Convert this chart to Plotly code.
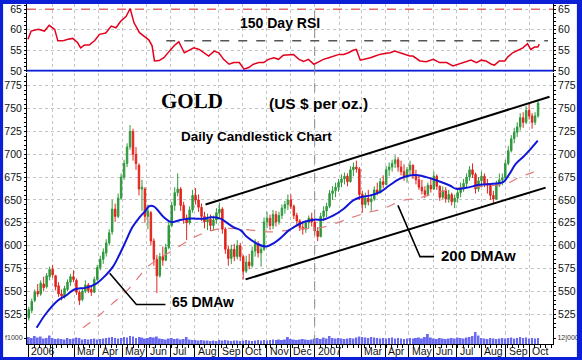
import plotly.graph_objects as go
import pandas as pd

# ---------------- data ----------------
candle_open = [
    521,529,540,550,547,558,555,566,574,567,
    556,547,544,552,560,566,562,549,541,550,
    557,552,549,563,576,585,592,603,615,640,
    632,652,675,690,708,725,700,688,662,662,
    632,636,605,585,567,588,584,598,622,644,
    658,662,644,630,625,639,655,650,642,632,
    626,629,622,628,636,640,618,596,586,596,
    588,600,588,572,582,578,594,602,592,596,
    626,630,622,634,626,633,641,645,650,643,
    633,627,620,618,625,630,626,616,610,632,
    638,643,657,660,664,669,673,676,670,683,
    686,684,656,645,652,648,651,661,658,670,
    667,683,686,690,694,686,681,676,683,688,
    677,672,664,660,656,666,662,676,665,653,
    660,651,656,648,652,658,664,668,675,683,
    678,662,671,676,668,666,655,651,667,672,
    674,690,704,717,724,730,740,735,748,742,
    735,742]
candle_high = [
    533,542,552,558,562,566,570,577,579,568,
    560,552,556,563,569,573,564,551,553,562,
    559,556,566,579,589,597,607,618,650,646,
    657,679,694,712,732,728,708,690,672,664,
    645,638,608,590,592,599,602,626,648,664,
    679,664,648,634,643,661,663,656,646,637,
    635,634,633,641,647,642,620,600,601,602,
    606,603,590,589,591,599,607,605,600,631,
    637,634,639,638,637,645,649,656,656,645,
    636,629,625,628,633,636,629,620,636,643,
    647,661,665,669,673,678,680,679,687,691,
    693,686,660,658,661,655,665,669,674,677,
    687,691,694,699,697,693,689,686,693,689,
    683,677,672,665,669,673,681,678,666,665,
    664,661,658,656,661,669,673,679,687,690,
    680,675,681,679,673,667,660,671,679,679,
    694,709,721,729,735,745,746,753,756,745,
    746,760]
candle_low = [
    518,526,538,544,545,550,553,562,565,551,
    544,540,542,550,556,560,546,535,539,548,
    548,545,548,561,573,580,588,600,612,626,
    630,650,672,686,705,693,683,655,638,625,
    618,600,578,548,565,578,583,596,620,638,
    654,638,624,606,623,636,645,637,627,619,
    617,616,616,624,630,613,591,578,580,583,
    585,583,563,570,574,576,588,587,577,594,
    619,617,618,621,623,629,635,639,640,629,
    623,616,612,614,619,621,612,605,609,627,
    631,641,650,653,659,664,667,665,669,676,
    680,650,636,641,644,638,649,655,657,663,
    666,676,681,685,681,677,671,669,677,673,
    667,661,656,652,654,658,661,661,649,651,
    647,647,644,641,647,653,659,663,671,674,
    657,659,665,664,657,650,645,650,664,666,
    673,688,702,712,719,726,729,733,738,728,
    732,740]
candle_close = [
    530,539,549,547,559,554,567,574,568,555,
    547,545,553,560,566,563,549,540,550,557,
    551,549,563,576,585,593,603,614,640,632,
    652,675,690,708,725,700,690,662,664,632,
    638,605,585,567,588,584,598,622,644,658,
    662,644,630,625,639,655,650,642,632,626,
    629,622,628,636,640,618,596,586,596,588,
    600,588,572,582,578,594,602,592,596,626,
    630,622,634,626,633,641,645,650,643,633,
    627,620,618,625,630,626,616,610,632,638,
    643,657,660,664,669,673,676,670,683,686,
    684,656,645,652,648,651,661,658,670,667,
    683,686,690,694,686,681,676,683,688,677,
    672,664,660,656,666,662,676,665,653,660,
    651,656,648,652,658,664,668,675,683,678,
    662,671,676,668,666,655,651,667,672,674,
    690,704,717,724,730,740,735,748,742,735,
    742,756]
volume = [
    70,60,80,65,75,55,60,85,60,50,
    55,50,45,60,50,55,65,60,45,50,
    45,50,55,45,50,55,60,65,70,60,
    55,60,70,65,80,75,60,70,65,55,
    60,70,65,75,55,50,45,55,60,50,
    55,45,50,70,45,40,40,35,40,35,
    35,30,35,30,40,35,40,35,30,35,
    35,30,35,40,35,30,35,40,35,40,
    35,40,45,40,45,40,45,70,50,45,
    40,45,50,45,40,45,55,60,50,65,
    55,80,60,55,60,55,50,55,60,55,
    65,75,70,65,60,70,65,60,55,60,
    55,60,65,55,60,55,50,55,60,55,
    60,65,55,70,100,65,55,50,60,55,
    50,55,60,55,65,60,55,65,70,80,
    120,85,60,55,50,60,55,50,55,60,
    55,60,65,55,60,70,60,65,55,60,
    55,60]

ma65_dates = ["2006-01-12","2006-01-24","2006-02-08","2006-02-19","2006-03-01","2006-03-16","2006-03-29","2006-04-10","2006-04-19","2006-04-27",
              "2006-05-06","2006-05-14","2006-05-23","2006-05-31","2006-06-04","2006-06-10","2006-06-23","2006-07-02","2006-07-12","2006-07-23",
              "2006-08-03","2006-08-13","2006-08-22","2006-09-03","2006-09-10","2006-09-20","2006-09-29","2006-10-07","2006-10-20","2006-10-31",
              "2006-11-10","2006-11-20","2006-11-29","2006-12-05","2006-12-18","2006-12-31","2007-01-12","2007-01-25","2007-02-07","2007-02-19",
              "2007-02-28","2007-03-13","2007-03-25","2007-04-06","2007-04-19","2007-05-02","2007-05-13","2007-05-23","2007-06-09","2007-06-22",
              "2007-06-30","2007-07-13","2007-07-30","2007-08-16","2007-08-29","2007-09-06","2007-09-14","2007-09-23","2007-10-01","2007-10-12"]
ma65_values = [510,525.7,540,545.7,552,554,558.5,567.6,576.7,589.4,
               605.8,620.3,631,638.5,643,643,631,625.8,627.6,629.5,
               629.5,629.5,631,629.5,625.8,620,616.7,609.4,602,599,
               602.8,609.4,616.7,620,625.8,628.4,628.4,633,640.4,649.5,
               653,655,658.5,665.8,673,676.7,677,675,670.2,665.8,
               662.2,663.3,666.6,667.7,669.4,678.6,689.5,696.7,704,715]

ma200_dates = ["2006-03-12","2006-04-02","2006-04-23","2006-05-04","2006-05-14","2006-05-31","2006-06-10","2006-06-27","2006-07-14","2006-07-31",
               "2006-08-17","2006-09-03","2006-09-24","2006-10-15","2006-11-05","2006-11-27","2006-12-18","2007-01-12","2007-02-07","2007-03-04",
               "2007-03-29","2007-04-23","2007-05-13","2007-06-01","2007-06-26","2007-07-21","2007-08-16","2007-09-02","2007-09-19","2007-10-06","2007-10-12"]
ma200_values = [510,524,540,548,557,575,582,591,600,609,
                615,618.6,618.6,616.7,615,616.7,618.6,620.3,627.6,635,
                640.4,649.5,652,656.8,662.2,664,665.8,667.7,675,680.4,683]

rsi_dates = ["2006-01-01","2006-01-05","2006-01-14","2006-01-22","2006-01-28","2006-02-04","2006-02-08","2006-02-14","2006-02-21","2006-02-27",
             "2006-03-05","2006-03-09","2006-03-14","2006-03-20","2006-03-27","2006-04-02","2006-04-10","2006-04-17","2006-04-23","2006-04-29",
             "2006-05-06","2006-05-11","2006-05-16","2006-05-23","2006-05-29","2006-06-04","2006-06-08","2006-06-11","2006-06-17","2006-06-23",
             "2006-06-30","2006-07-06","2006-07-12","2006-07-19","2006-07-25","2006-07-31","2006-08-07","2006-08-13","2006-08-19","2006-08-26",
             "2006-09-01","2006-09-07","2006-09-14","2006-09-20","2006-09-27","2006-10-03","2006-10-09","2006-10-15","2006-10-22","2006-10-28",
             "2006-11-03","2006-11-10","2006-11-16","2006-11-22","2006-11-29","2006-12-05","2006-12-12","2006-12-18","2006-12-24","2006-12-31",
             "2007-01-06","2007-01-12","2007-01-19","2007-01-25","2007-02-01","2007-02-07","2007-02-13","2007-02-19","2007-02-23","2007-02-28",
             "2007-03-06","2007-03-13","2007-03-19","2007-03-25","2007-03-31","2007-04-07","2007-04-13","2007-04-19","2007-04-26","2007-05-02",
             "2007-05-06","2007-05-15","2007-05-23","2007-06-01","2007-06-09","2007-06-18","2007-06-26","2007-07-05","2007-07-13","2007-07-19",
             "2007-07-26","2007-08-01","2007-08-07","2007-08-14","2007-08-18","2007-08-24","2007-08-31","2007-09-04","2007-09-10","2007-09-16",
             "2007-09-23","2007-09-29","2007-10-03","2007-10-08","2007-10-12","2007-10-14"]
rsi_values = [57.7,59.7,60.1,59.7,61.1,60.1,57.3,57.3,57.7,57.9,
              56.9,55.6,56.3,56.3,57.4,58.9,59.2,60.9,60.5,62.1,
              63.3,65.2,61.7,59.3,58.4,57.5,56.1,52.4,52.5,53.2,
              54.8,56.1,57.1,54.4,55.0,55.6,55.2,54.4,53.6,54.8,
              54.4,52.8,51.6,52.0,52.0,50.4,50.8,51.6,52.0,52.0,
              52.8,53.2,52.8,53.8,54.0,54.0,52.8,52.3,52.8,51.6,
              52.2,52.8,53.2,53.6,54.0,54.0,54.4,55.0,55.2,52.6,
              52.8,53.2,53.6,54.0,54.2,54.4,54.8,54.4,54.0,53.6,
              53.6,52.4,52.2,52.8,52.0,52.0,51.2,51.8,52.3,52.6,
              52.0,52.6,52.4,51.6,51.4,52.4,52.4,53.4,54.4,55.0,
              55.6,56.6,55.2,55.8,55.8,56.5]

rsi_overbought = 65
rsi_mid = 50
rsi_resist_dates = ["2006-06-26", "2007-10-25"]
rsi_resist_values = [57.3, 57.3]

channel_upper_dates = ["2006-08-15", "2007-10-27"]
channel_upper_values = [645, 763]
channel_lower_dates = ["2006-10-05", "2007-10-22"]
channel_lower_values = [563, 663.5]

ptr65_dates = ["2006-04-15", "2006-05-19", "2006-06-25"]
ptr65_values = [569.8, 535.6, 535.6]
ptr200_dates = ["2007-04-17", "2007-05-15", "2007-06-02"]
ptr200_values = [644, 588, 588]

month_labels = ["2006","","Mar","Apr","May","Jun","Jul","Aug","Sep","Oct","Nov","Dec",
                "2007","","Mar","Apr","May","Jun","Jul","Aug","Sep","Oct"]
price_ticks = [525,550,575,600,625,650,675,700,725,750,775]
rsi_ticks = [50,55,60,65]

# ---------------- figure ----------------
candle_dates = pd.date_range("2006-01-02", periods=len(candle_close), freq="91h")
month_ticks = pd.date_range("2006-01-01", periods=len(month_labels), freq="MS")

FONT = "Liberation Sans, Arial, sans-serif"
BLUE = "#0a1fd6"

fig = go.Figure()

# volume
fig.add_trace(go.Bar(x=candle_dates, y=volume, yaxis="y3", marker=dict(color="#6a6af0", line=dict(width=0)),
                     showlegend=False, hoverinfo="skip"))
fig.add_trace(go.Scatter(x=[candle_dates[0]], y=[volume[0]], yaxis="y6", mode="markers",
                         marker=dict(opacity=0), showlegend=False, hoverinfo="skip"))

# candles
fig.add_trace(go.Candlestick(
    x=candle_dates, open=candle_open, high=candle_high, low=candle_low, close=candle_close,
    yaxis="y2", whiskerwidth=0,
    increasing=dict(line=dict(color="#2f9a3d", width=1), fillcolor="#2f9a3d"),
    decreasing=dict(line=dict(color="#e3241d", width=1), fillcolor="#e3241d"),
    showlegend=False, hoverinfo="skip"))

# moving averages
fig.add_trace(go.Scatter(x=ma200_dates, y=ma200_values, yaxis="y2", mode="lines", line_shape="spline",
                         line=dict(color="#e07a7a", width=1.2, dash="dash"), showlegend=False, hoverinfo="skip"))
fig.add_trace(go.Scatter(x=ma65_dates, y=ma65_values, yaxis="y2", mode="lines", line_shape="spline",
                         line=dict(color="#1016d8", width=2), showlegend=False, hoverinfo="skip"))

# channel + pointers
for xs, ys, w in [(channel_upper_dates, channel_upper_values, 2), (channel_lower_dates, channel_lower_values, 2),
                  (ptr65_dates, ptr65_values, 1.6), (ptr200_dates, ptr200_values, 1.6)]:
    fig.add_trace(go.Scatter(x=xs, y=ys, yaxis="y2", mode="lines", line=dict(color="black", width=w),
                             showlegend=False, hoverinfo="skip"))
fig.add_trace(go.Scatter(x=[candle_dates[0]], y=[candle_close[0]], yaxis="y5", mode="markers",
                         marker=dict(opacity=0), showlegend=False, hoverinfo="skip"))

# RSI
fig.add_trace(go.Scatter(x=rsi_resist_dates, y=rsi_resist_values, yaxis="y", mode="lines",
                         line=dict(color="#555555", width=1.5, dash="dash"), showlegend=False, hoverinfo="skip"))
fig.add_trace(go.Scatter(x=rsi_dates, y=rsi_values, yaxis="y", mode="lines",
                         line=dict(color="#e4001b", width=1.5), showlegend=False, hoverinfo="skip"))
fig.add_trace(go.Scatter(x=[candle_dates[0]], y=[rsi_values[0]], yaxis="y4", mode="markers",
                         marker=dict(opacity=0), showlegend=False, hoverinfo="skip"))

# geometry: plot area x 27..555, y 3..344
PL, PR, PT, PB, W, H = 27, 27, 3, 16, 582, 360
ph = H - PT - PB
pw = W - PL - PR

def py(y):
    return (H - PB - y) / ph

def px(x):
    return (x - PL) / pw

tickfont = dict(family=FONT, size=10.5, color="#111111")
common_y = dict(showline=True, linecolor="black", linewidth=1, ticks="outside", ticklen=2, tickcolor="black",
                tickfont=tickfont, zeroline=False)

rsi_range = [49.76, 66.29]
price_range = [505.4, 789.2]
vol_range = [0, 120]

fig.update_layout(
    width=W, height=H,
    margin=dict(l=PL, r=PR, t=PT, b=PB),
    paper_bgcolor="white", plot_bgcolor="white",
    font=dict(family=FONT),
    showlegend=False,
    bargap=0.35,
    xaxis=dict(type="date", domain=[0, 1], anchor="y3",
               range=["2005-12-30 17:30", "2007-10-31 09:30"],
               tickvals=month_ticks, showticklabels=False,
               ticks="outside", ticklen=12, tickcolor="black", tickwidth=1,
               showgrid=True, gridcolor="#c4c4c4", griddash="dot", gridwidth=1,
               showline=True, linecolor="black", linewidth=1,
               minor=dict(dtick=7 * 86400000, tick0="2006-01-02", ticks="outside", ticklen=3,
                          tickcolor="black", showgrid=False),
               rangeslider=dict(visible=False), zeroline=False),
    yaxis=dict(domain=[py(71), 1], range=rsi_range, tickvals=rsi_ticks, side="left",
               showgrid=True, gridcolor="#c4c4c4", griddash="dot",
               minor=dict(dtick=1, ticks="outside", ticklen=2, tickcolor="black", showgrid=False), **common_y),
    yaxis4=dict(overlaying="y", side="right", range=rsi_range, tickvals=rsi_ticks, showgrid=False,
                minor=dict(dtick=1, ticks="outside", ticklen=2, tickcolor="black", showgrid=False), **common_y),
    yaxis2=dict(domain=[py(332), py(72)], range=price_range, tickvals=price_ticks, side="left",
                showgrid=True, gridcolor="#c4c4c4", griddash="dot",
                minor=dict(dtick=5, ticks="outside", ticklen=2, tickcolor="black", showgrid=False), **common_y),
    yaxis5=dict(overlaying="y2", side="right", range=price_range, tickvals=price_ticks, showgrid=False,
                minor=dict(dtick=5, ticks="outside", ticklen=2, tickcolor="black", showgrid=False), **common_y),
    yaxis3=dict(domain=[0, py(332)], range=vol_range, tickvals=[60], ticktext=["f1000"], side="left",
                showgrid=False, **dict(common_y, tickfont=dict(family=FONT, size=7, color="#333"))),
    yaxis6=dict(overlaying="y3", side="right", range=vol_range, tickvals=[60], ticktext=["12|000"],
                showgrid=False, **dict(common_y, tickfont=dict(family=FONT, size=7, color="#333"))),
)

# month labels placed right of each month tick
for d, lab in zip(month_ticks, month_labels):
    if lab:
        fig.add_annotation(text=lab, x=d, xref="x", y=py(351.5), yref="paper", showarrow=False,
                           xanchor="left", yanchor="middle", xshift=1,
                           font=dict(family=FONT, size=10.5, color="#111111"))

# reference lines in RSI panel
fig.add_shape(type="line", xref="paper", x0=0, x1=1, yref="y", y0=rsi_overbought, y1=rsi_overbought,
              line=dict(color="#e06a6a", width=1.5, dash="dash"))
fig.add_shape(type="line", xref="paper", x0=0, x1=1, yref="y", y0=rsi_mid, y1=rsi_mid,
              line=dict(color=BLUE, width=2))
# year divider
fig.add_shape(type="line", xref="x", x0="2007-01-01", x1="2007-01-01", yref="paper", y0=0, y1=1,
              line=dict(color="#8a8a8a", width=1, dash="dash"))
# blue frame
fig.add_shape(type="rect", xref="paper", yref="paper",
              x0=px(0), x1=px(W), y0=py(H), y1=py(0),
              line=dict(color=BLUE, width=6), fillcolor="rgba(0,0,0,0)", layer="above")

def ann(text, x, y, size, family=FONT, anchor="center"):
    fig.add_annotation(text=text, xref="paper", yref="paper", x=px(x), y=py(y), showarrow=False,
                       xanchor=anchor, yanchor="middle", font=dict(family=family, size=size, color="black"))

ann("<b>150 Day RSI</b>", 280.5, 22.5, 14)
ann("<b>GOLD</b>", 193, 100, 21, family="Liberation Serif, Times New Roman, serif")
ann("<b>(US $ per oz.)</b>", 320, 103, 15.5)
ann("<b>Daily Candlestick Chart</b>", 257.5, 135.5, 13.5)
ann("<b>65 DMAw</b>", 171, 302, 14, anchor="left")
ann("<b>200 DMAw</b>", 441, 255, 15, anchor="left")

fig.write_html("out.html",
               config={"displayModeBar": False},
               post_script="document.body.style.margin='0';document.body.style.padding='0';"
                           "document.documentElement.style.overflow='hidden';")
